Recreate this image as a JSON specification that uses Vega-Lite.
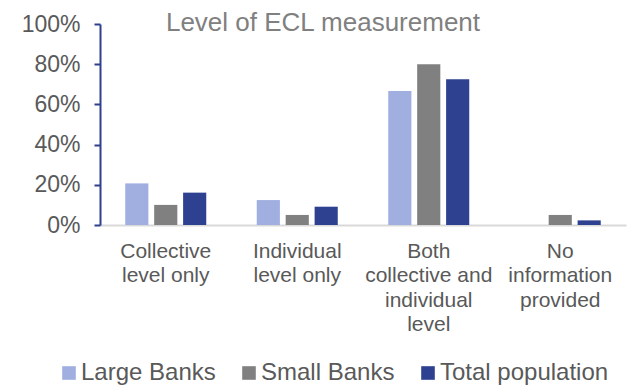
{
  "$schema": "https://vega.github.io/schema/vega-lite/v6.json",
  "width": 526,
  "height": 201,
  "autosize": {"type": "none"},
  "padding": {"left": 100, "top": 24, "right": 3, "bottom": 161},
  "background": "white",
  "title": {
    "text": "Level of ECL measurement",
    "font": "Liberation Sans",
    "fontSize": 26,
    "fontWeight": "normal",
    "color": "#808080",
    "anchor": "middle",
    "frame": "group",
    "baseline": "alphabetic",
    "offset": 0,
    "dx": -40,
    "dy": 44
  },
  "data": {
    "values": [
      {"category": "Collective level only", "group": "Large Banks", "share": 0.207},
      {"category": "Collective level only", "group": "Small Banks", "share": 0.10},
      {"category": "Collective level only", "group": "Total population", "share": 0.161},
      {"category": "Individual level only", "group": "Large Banks", "share": 0.124},
      {"category": "Individual level only", "group": "Small Banks", "share": 0.05},
      {"category": "Individual level only", "group": "Total population", "share": 0.091},
      {"category": "Both collective and individual level", "group": "Large Banks", "share": 0.667},
      {"category": "Both collective and individual level", "group": "Small Banks", "share": 0.80},
      {"category": "Both collective and individual level", "group": "Total population", "share": 0.725},
      {"category": "No information provided", "group": "Large Banks", "share": 0.0},
      {"category": "No information provided", "group": "Small Banks", "share": 0.05},
      {"category": "No information provided", "group": "Total population", "share": 0.023}
    ]
  },
  "mark": {"type": "bar"},
  "encoding": {
    "x": {
      "field": "category",
      "type": "nominal",
      "sort": null,
      "scale": {"paddingInner": 0.384, "paddingOuter": 0.192},
      "axis": {
        "title": null,
        "labelAngle": 0,
        "ticks": false,
        "tickSize": 0,
        "labelPadding": 15,
        "labelFont": "Liberation Sans",
        "labelFontSize": 21,
        "labelColor": "#595959",
        "labelBaseline": "top",
        "labelLineHeight": 24.5,
        "labelOverlap": false,
        "labelLimit": 300,
        "domainColor": "#D9D9D9",
        "domainWidth": 2,
        "grid": false,
        "labelExpr": "datum.value == 'Collective level only' ? ['Collective', 'level only'] : datum.value == 'Individual level only' ? ['Individual', 'level only'] : datum.value == 'Both collective and individual level' ? ['Both', 'collective and', 'individual', 'level'] : ['No', 'information', 'provided']"
      }
    },
    "xOffset": {
      "field": "group",
      "type": "nominal",
      "sort": ["Large Banks", "Small Banks", "Total population"],
      "scale": {"paddingInner": 0.2, "paddingOuter": 0}
    },
    "y": {
      "field": "share",
      "type": "quantitative",
      "scale": {"domain": [0, 1], "nice": false},
      "axis": {
        "title": null,
        "values": [0, 0.2, 0.4, 0.6, 0.8, 1],
        "format": ".0%",
        "grid": false,
        "domainColor": "#2E3F8F",
        "domainWidth": 2,
        "tickColor": "#2E3F8F",
        "tickWidth": 2,
        "tickSize": 6,
        "labelPadding": 14,
        "labelFont": "Liberation Sans",
        "labelFontSize": 23,
        "labelColor": "#595959"
      }
    },
    "color": {
      "field": "group",
      "type": "nominal",
      "sort": ["Large Banks", "Small Banks", "Total population"],
      "scale": {
        "domain": ["Large Banks", "Small Banks", "Total population"],
        "range": ["#A0AEE0", "#808080", "#2E4090"]
      },
      "legend": {
        "title": null,
        "orient": "none",
        "direction": "horizontal",
        "legendX": -43,
        "legendY": 337,
        "symbolType": "square",
        "symbolSize": 185,
        "symbolStrokeWidth": 0,
        "labelFont": "Liberation Sans",
        "labelFontSize": 24,
        "labelColor": "#595959",
        "labelOffset": 0,
        "labelLimit": 300,
        "columnPadding": 21
      }
    }
  },
  "config": {
    "view": {"stroke": null}
  }
}
